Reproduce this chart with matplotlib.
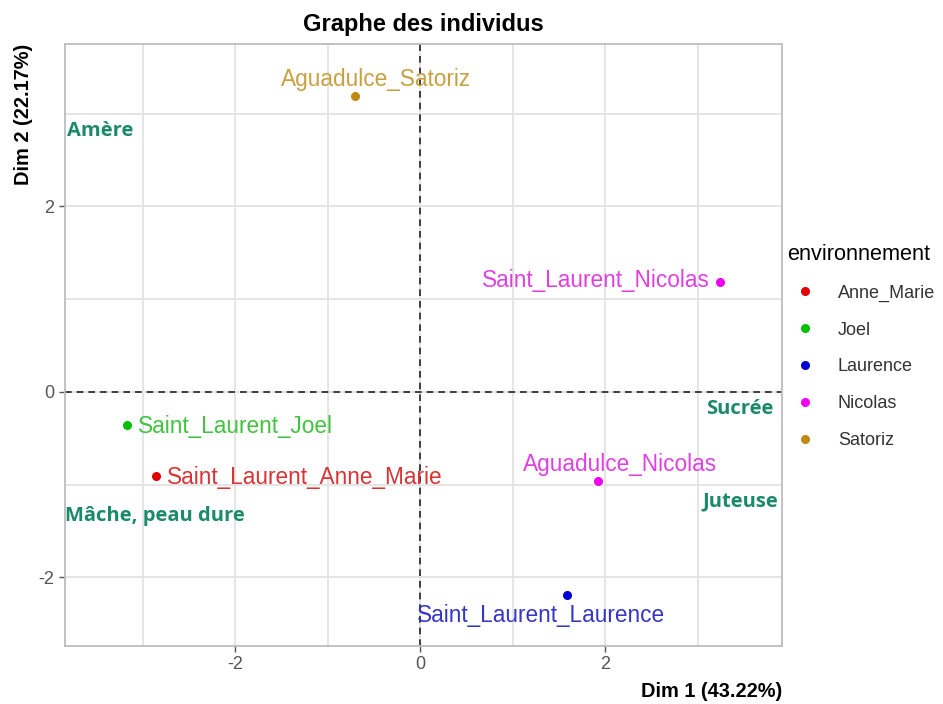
import matplotlib
matplotlib.use("Agg")
import matplotlib.pyplot as plt
from matplotlib.lines import Line2D

plt.rcParams['font.family'] = ['Liberation Sans', 'DejaVu Sans']
plt.rcParams['axes.unicode_minus'] = False

# individus de l'ACP
individus = ['Aguadulce_Satoriz', 'Saint_Laurent_Nicolas', 'Saint_Laurent_Joel',
             'Saint_Laurent_Anne_Marie', 'Aguadulce_Nicolas', 'Saint_Laurent_Laurence']
dim1 = [-0.70, 3.24, -3.17, -2.86, 1.92, 1.59]
dim2 = [3.19, 1.18, -0.36, -0.91, -0.96, -2.19]
groupe = ['Satoriz', 'Nicolas', 'Joel', 'Anne_Marie', 'Nicolas', 'Laurence']

environnements = ['Anne_Marie', 'Joel', 'Laurence', 'Nicolas', 'Satoriz']
couleurs = {'Anne_Marie': '#e00000', 'Joel': '#00c000', 'Laurence': '#0000d0',
            'Nicolas': '#f000f0', 'Satoriz': '#c08a10'}
couleurs_texte = {'Anne_Marie': '#d83434', 'Joel': '#40c440', 'Laurence': '#3535c8',
                  'Nicolas': '#e040e0', 'Satoriz': '#c8a040'}

# decalage des etiquettes (points) et alignement
decalages = [((15, 12), 'center'), ((-7, 1), 'right'), ((8, -1), 'left'),
             ((8, -1), 'left'), ((16, 12), 'center'), ((-19, -15), 'center')]

# descripteurs sensoriels
descripteurs = ['Amère', 'Sucrée', 'Mâche, peau dure', 'Juteuse']
desc_x = [-3.82, 3.82, -3.84, 3.87]
desc_y = [2.81, -0.19, -1.34, -1.18]
desc_ha = ['left', 'right', 'left', 'right']

fig = plt.figure(figsize=(9.43, 7.04), dpi=100)
ax = fig.add_axes([0.0689, 0.0824, 0.7604, 0.8551])

ax.set_xlim(-3.84, 3.91)
ax.set_ylim(-2.74, 3.75)
ax.set_xticks([-2, 0, 2])
ax.set_yticks([-2, 0, 2])
ax.set_xticks([-3, -1, 1, 3], minor=True)
ax.set_yticks([-1, 1, 3], minor=True)
ax.grid(True, which='both', color='#e3e3e3', linewidth=1.3)
ax.set_axisbelow(True)
for s in ax.spines.values():
    s.set_color('#bdbdbd')
    s.set_linewidth(1.3)
ax.tick_params(which='major', colors='#555555', labelsize=13, length=4, width=1)
ax.tick_params(which='minor', length=0)

ax.axhline(0, color='#222222', linestyle=(0, (4, 3)), linewidth=1.2)
ax.axvline(0, color='#222222', linestyle=(0, (4, 3)), linewidth=1.2)

for nom, x, y, g, (off, ha) in zip(individus, dim1, dim2, groupe, decalages):
    ax.scatter(x, y, s=30, color=couleurs[g], zorder=3)
    ax.annotate(nom, (x, y), xytext=off, textcoords='offset points',
                ha=ha, va='center', fontsize=16.3, color=couleurs_texte[g])

for txt, x, y, ha in zip(descripteurs, desc_x, desc_y, desc_ha):
    ax.text(x, y, txt, ha=ha, va='center', fontsize=14.5, fontweight='bold',
            color='#1b8a6b', family=['Open Sans', 'DejaVu Sans'])

ax.set_title('Graphe des individus', fontsize=17, fontweight='bold', pad=9)
ax.set_xlabel('Dim 1 (43.22%)', fontsize=14.4, fontweight='bold', loc='right', labelpad=6)
ax.set_ylabel('Dim 2 (22.17%)', fontsize=14.4, fontweight='bold', loc='top', labelpad=4)

poignees = [Line2D([], [], marker='o', linestyle='', markersize=5.5,
                   color=couleurs[e]) for e in environnements]
leg = fig.legend(poignees, environnements, title='environnement',
                 loc='upper left', bbox_to_anchor=(0.8177, 0.677), frameon=False,
                 fontsize=13, title_fontsize=15.6, handletextpad=0.8,
                 labelspacing=1.1, alignment='left')
for t in leg.get_texts():
    t.set_color('#333333')

fig.savefig('out.png', dpi=100)
